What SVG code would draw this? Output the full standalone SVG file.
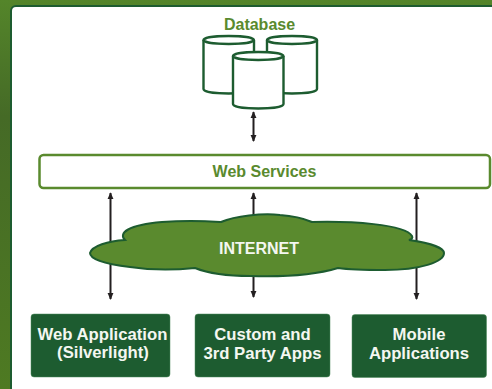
<svg xmlns="http://www.w3.org/2000/svg" width="492" height="389" viewBox="0 0 492 389">
<style>
text{font-family:"Liberation Sans",Arial,sans-serif;font-weight:700;text-anchor:middle}
.g{fill:#5a8a2e}.w{fill:#f4f7f1;font-size:16.700px}
.cyl{fill:#fff;stroke:#1d5c30;stroke-width:2.4}
.box{fill:#1d5c30;stroke:#4f8a5c;stroke-width:.5}
.a{stroke:#231f20;stroke-width:2;fill:none;marker-start:url(#h);marker-end:url(#h)}
</style>
<defs>
<linearGradient id="bg" x1="0" y1="0" x2="0" y2="1"><stop offset="0" stop-color="#54852a"/><stop offset=".3" stop-color="#456a26"/><stop offset="1" stop-color="#4e7a22"/></linearGradient>
<marker id="h" viewBox="0 0 8 8" refX="7" refY="4" markerWidth="7" markerHeight="7" markerUnits="userSpaceOnUse" orient="auto-start-reverse"><path d="M0 .6L8 4L0 7.4z" fill="#231f20"/></marker>
</defs>
<rect id="background" width="492" height="389" fill="url(#bg)"/>
<rect id="panel" x="11" y="6" width="500" height="400" rx="5" fill="#fff" stroke="#1d5c30" stroke-width="2"/>
<g id="connectors">
<path class="a" d="M253.500 112V141"/>
<path class="a" d="M110.500 193V299"/>
<path class="a" d="M253.500 193V297"/>
<path class="a" d="M416.500 193V299"/>
</g>
<g id="database">
<text class="g" x="259.500" y="30" font-size="16">Database</text>
<g id="db-left"><path class="cyl" d="M203.500 40V89C203.500 95 254 95 254 89V40"/><ellipse class="cyl" cx="228.700" cy="40" rx="25.200" ry="4"/></g>
<g id="db-right"><path class="cyl" d="M267 40V89C267 95 317 95 317 89V40"/><ellipse class="cyl" cx="292" cy="40" rx="25" ry="4"/></g>
<g id="db-front"><path class="cyl" d="M233 56V104C233 110 283.500 110 283.500 104V56"/><ellipse class="cyl" cx="258.200" cy="56" rx="25.200" ry="4"/></g>
</g>
<g id="web-services">
<rect x="39.500" y="155" width="450.500" height="33" rx="4" fill="#fff" stroke="#5a8a2e" stroke-width="2.500"/>
<text class="g" x="264.500" y="177" font-size="16">Web Services</text>
</g>
<g id="internet">
<path d="M90 253C92 246 108 241 125 240C118 233 128 225 162 222C190 220 205 221 221 222C235 216 262 213 280 215C295 216 305 219 312 222C350 221 405 224 412 236C413 238 412 239 409 240C430 243 444 248 444 253C444 262 420 270 385 270C360 270 345 269 338 268C315 275 280 277 250 276C225 276 205 272 195 268C175 270 150 270 130 267C105 264 90 259 90 253Z" fill="#5a8a2e" stroke="#1d5c30" stroke-width="2"/>
<text x="259" y="254" font-size="16" fill="#f4f7f1">INTERNET</text>
</g>
<g id="web-app">
<rect class="box" x="31" y="314" width="139" height="63" rx="3"/>
<text class="w" x="102.500" y="340">Web Application</text>
<text class="w" x="103" y="358">(Silverlight)</text>
</g>
<g id="custom-apps">
<rect class="box" x="195" y="314" width="135" height="63" rx="3"/>
<text class="w" x="262.500" y="340">Custom and</text>
<text class="w" x="262.500" y="359">3rd Party Apps</text>
</g>
<g id="mobile-apps">
<rect class="box" x="352" y="314.500" width="134.500" height="63" rx="3"/>
<text class="w" x="419" y="340">Mobile</text>
<text class="w" x="419" y="359">Applications</text>
</g>
</svg>
